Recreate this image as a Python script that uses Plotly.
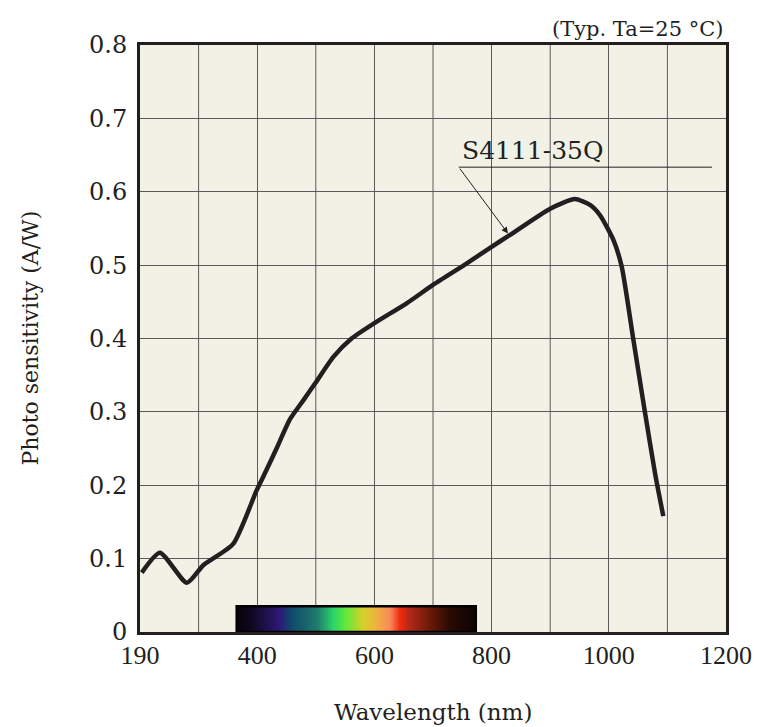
import numpy as np
import plotly.graph_objects as go

# spectral response of S4111-35Q
wavelength_nm = [203, 234, 280, 308, 359, 399, 416, 433, 456, 479, 499, 530, 561,
                 600, 655, 700, 757, 800, 831, 900, 942, 968, 985, 1008, 1022,
                 1042, 1062, 1079, 1093]
sensitivity = [0.081, 0.108, 0.067, 0.091, 0.120, 0.193, 0.221, 0.250, 0.290,
               0.316, 0.339, 0.375, 0.400, 0.421, 0.448, 0.473, 0.502, 0.525,
               0.541, 0.577, 0.590, 0.582, 0.568, 0.534, 0.498, 0.398, 0.298,
               0.216, 0.158]

x_tickvals = [200, 400, 600, 800, 1000, 1200]
x_ticktext = ['190', '400', '600', '800', '1000', '1200']
y_tickvals = [0, 0.1, 0.2, 0.3, 0.4, 0.5, 0.6, 0.7, 0.8]
y_ticktext = ['0', '0.1', '0.2', '0.3', '0.4', '0.5', '0.6', '0.7', '0.8']

# visible-light colour band under the curve
spectrum_nm = [365, 393, 439, 459, 502, 530, 550, 581, 604, 627, 644, 661, 695, 729, 773]
spectrum_colors = ['#05030a', '#120824', '#2c1a7a', '#0f4a6a', '#1f7a6e', '#2ad56a',
                   '#5de83a', '#d8d02a', '#f0b040', '#f88a5a', '#f02a10', '#b02818',
                   '#6a1a08', '#2a0a04', '#0a0404']
spectrum_height = 0.035

label_name = 'S4111-35Q'
label_xy = (746, 0.656)
leader_start = (744, 0.6335)
leader_end = (1176, 0.6335)
arrow_tip = (828, 0.543)

SERIF = 'DejaVu Serif'
TIMES = 'Liberation Serif'
INK = '#231f20'
GRID = '#5a5a5a'

fig = go.Figure()

# spectrum bar as a smooth heatmap
lo, hi = spectrum_nm[0], spectrum_nm[-1]
cscale = [[(w - lo) / (hi - lo), c] for w, c in zip(spectrum_nm, spectrum_colors)]
edges = np.linspace(lo, hi, 301)
centers = (edges[:-1] + edges[1:]) / 2
fig.add_trace(go.Heatmap(x=edges, y=[0, spectrum_height], z=[centers],
                         colorscale=cscale, zmin=lo, zmax=hi,
                         showscale=False, hoverinfo='skip'))
fig.add_shape(type='rect', x0=lo, x1=hi, y0=0, y1=spectrum_height,
              line=dict(color='black', width=2.5))

fig.add_trace(go.Scatter(x=wavelength_nm, y=sensitivity, mode='lines',
                         line=dict(color=INK, width=4.5, shape='spline', smoothing=0.6),
                         showlegend=False, hoverinfo='skip'))

# part number label with underline and leader arrow
fig.add_shape(type='line', x0=leader_start[0], x1=leader_end[0],
              y0=leader_start[1], y1=leader_end[1], line=dict(color=INK, width=1))
fig.add_annotation(x=arrow_tip[0], y=arrow_tip[1], ax=leader_start[0], ay=leader_start[1],
                   axref='x', ayref='y', xref='x', yref='y', text='',
                   showarrow=True, arrowhead=2, arrowsize=1.3, arrowwidth=1, arrowcolor=INK)
fig.add_annotation(x=label_xy[0], y=label_xy[1], xref='x', yref='y', text=label_name,
                   showarrow=False, xanchor='left', yanchor='middle',
                   font=dict(family=SERIF, size=25, color=INK))

fig.add_annotation(x=1, y=1, xref='paper', yref='paper', yshift=2,
                   text='(Typ. Ta=25 °C)', showarrow=False,
                   xanchor='right', yanchor='bottom',
                   font=dict(family=SERIF, size=21, color=INK))

# axis titles as annotations so the margins stay fixed
fig.add_annotation(x=0.5, y=0, xref='paper', yref='paper', yshift=-80,
                   text='Wavelength (nm)', showarrow=False,
                   xanchor='center', yanchor='middle',
                   font=dict(family=SERIF, size=23, color=INK))
fig.add_annotation(x=0, y=0.5, xref='paper', yref='paper', xshift=-110,
                   text='Photo sensitivity (A/W)', showarrow=False, textangle=-90,
                   xanchor='center', yanchor='middle',
                   font=dict(family=SERIF, size=22, color=INK))

axis_common = dict(showline=True, mirror=True, linewidth=3, linecolor=INK,
                   showgrid=True, gridcolor=GRID, gridwidth=1,
                   ticks='', zeroline=False, automargin=False)

fig.update_xaxes(range=[200, 1200], tickmode='array',
                 tickvals=x_tickvals, ticktext=x_ticktext, ticklabelstandoff=-2,
                 tickfont=dict(family=TIMES, size=26, color=INK),
                 **axis_common)
fig.update_yaxes(range=[0, 0.8], tickmode='array',
                 tickvals=y_tickvals, ticktext=y_ticktext, ticklabelstandoff=5,
                 tickfont=dict(family=SERIF, size=24, color=INK),
                 **axis_common)

# vertical grid every 100 nm (the tick labels sit only on every second line)
for gx in range(300, 1200, 200):
    fig.add_vline(x=gx, line=dict(color=GRID, width=1), layer='below')

fig.update_layout(width=757, height=727, paper_bgcolor='white', plot_bgcolor='#f2f1e6',
                  margin=dict(l=140, r=31, t=45, b=95), showlegend=False)

# drop the default page margin so the figure fills the window exactly
fig.write_html("out.html", config={'displayModeBar': False},
               post_script="document.body.style.margin = '0';")
